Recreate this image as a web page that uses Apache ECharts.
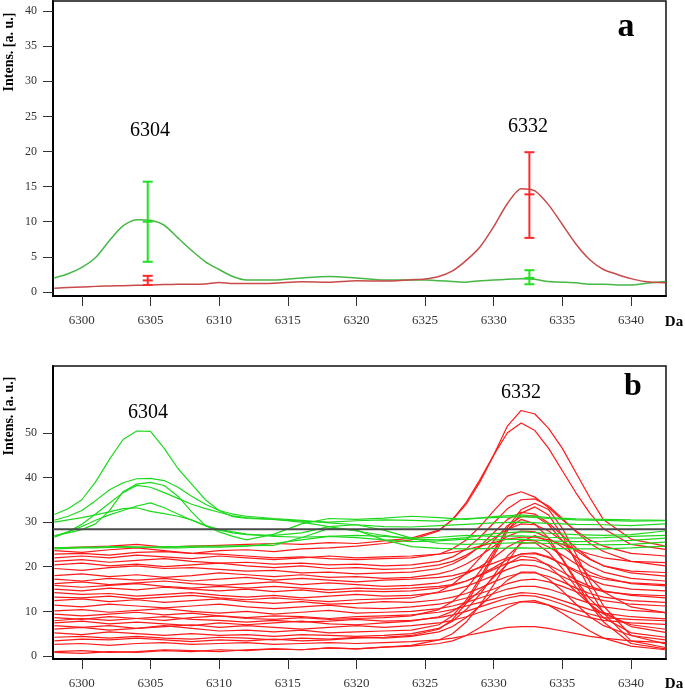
<!DOCTYPE html>
<html>
<head>
<meta charset="utf-8">
<script src="https://cdn.jsdelivr.net/npm/echarts@6/dist/echarts.min.js"></script>
<style>
html,body{margin:0;padding:0;background:#fff;}
#c{width:685px;height:690px;}
</style>
</head>
<body>
<div id="c"></div>
<script>
// ---------- Panel a ----------
const AX = [6298,6299,6300,6301,6302,6303,6304,6305,6306,6307,6308,6309,6310,6311,6312,6314,6316,6318,6320,6322,6324,6325,6326,6327,6328,6329,6330,6331,6332,6333,6334,6335,6336,6337,6338,6339,6340,6341,6342.5];
const greenA = [2.0,2.6,3.5,4.9,7.3,9.4,10.3,10.2,9.5,7.7,5.9,4.3,3.2,2.2,1.7,1.7,2.0,2.2,2.0,1.7,1.7,1.7,1.6,1.5,1.4,1.6,1.7,1.8,1.9,1.8,1.5,1.4,1.3,1.1,1.1,1.0,1.0,1.2,1.5];
const redA = [0.55,0.65,0.7,0.8,0.85,0.9,0.95,1.0,1.05,1.1,1.1,1.15,1.35,1.2,1.2,1.25,1.45,1.4,1.6,1.55,1.75,1.85,2.2,3.0,4.5,6.4,9.3,12.6,14.7,14.4,12.4,9.6,6.8,4.6,3.2,2.5,1.9,1.5,1.3];
const errX = [6304.8, 6332.6];
const greenErrMean = [10.0, 2.0];
const greenErrLow = [4.3, 1.1];
const greenErrHigh = [15.7, 3.1];
const redErrMean = [1.65, 13.9];
const redErrLow = [1.0, 7.7];
const redErrHigh = [2.3, 19.9];
const xTicks = [6300,6305,6310,6315,6320,6325,6330,6335,6340];
const yTicksA = [0,5,10,15,20,25,30,35,40];
const yTicksB = [0,10,20,30,40,50];
const peakLabels = ['6304','6332'];

// ---------- Panel b ----------
const GX = [6298,6299,6300,6301,6302,6303,6304,6305,6306,6307,6308,6309,6310,6311,6312,6314,6316,6318,6320,6322,6324,6326,6328,6330,6332,6334,6336,6338,6340,6342.5];
const green1 = [31.7,33.0,35.0,39.0,44.0,48.5,50.4,50.3,46.5,42.0,38.5,35.0,32.6,31.2,30.8,30.6,30.2,30.0,30.3,30.5,30.4,30.2,30.8,31.0,31.2,30.8,30.5,30.4,30.2,30.3];
const green2 = [30.4,31.3,32.6,34.8,37.2,38.8,39.7,39.8,39.3,37.8,35.8,34.0,32.6,31.8,31.3,30.8,30.4,29.8,29.4,29.0,28.9,29.2,29.5,29.8,30.0,29.7,29.5,29.4,29.2,29.6];
const green3 = [27.0,27.6,28.3,29.6,32.5,36.8,38.5,38.9,38.2,35.8,32.3,29.2,27.8,26.8,26.0,27.3,29.6,30.8,30.6,30.9,31.3,31.0,30.6,31.2,31.6,31.0,30.7,30.6,30.5,30.4];
const green4 = [26.6,27.8,29.5,31.8,34.2,36.6,38.2,37.8,36.6,35.3,34.0,33.0,32.2,31.4,31.0,30.6,30.0,29.0,28.0,27.0,26.2,26.0,26.5,27.4,27.8,27.5,27.2,27.0,27.2,28.0];
const green5 = [26.8,27.8,29.0,30.4,31.6,32.6,33.6,34.3,33.2,31.8,30.4,29.2,28.4,27.8,27.3,26.8,26.6,26.8,27.0,26.8,26.4,26.6,27.0,26.8,26.9,26.6,26.4,26.5,26.8,27.0];
const green6 = [30.0,30.5,31.0,31.6,32.3,33.0,33.2,32.4,31.9,31.3,30.5,29.2,28.2,27.6,27.2,27.0,27.6,29.0,29.4,28.2,26.4,25.2,25.0,25.2,25.4,25.2,25.0,24.9,25.0,25.5];
const green7 = [24.0,24.1,24.2,24.2,24.3,24.4,24.4,24.3,24.2,24.2,24.3,24.4,24.4,24.5,24.6,25.2,26.0,26.8,26.5,26.0,25.6,25.8,26.2,26.0,26.2,25.8,25.6,25.7,25.9,26.4];
const green8 = [24.3,24.3,24.4,24.4,24.5,24.5,24.4,24.4,24.5,24.5,24.6,24.6,24.6,24.7,24.7,24.8,26.5,28.6,28.2,26.0,24.5,24.1,24.0,24.1,24.2,24.1,24.0,24.0,24.2,24.6];

const RX = [6298,6300,6302,6304,6306,6308,6310,6312,6314,6316,6318,6320,6322,6324,6326,6327,6328,6329,6330,6331,6332,6333,6334,6335,6336,6337,6338,6340,6342.5];
const red01 = [24.2,24.4,24.6,25.0,24.4,24.6,24.8,25.0,25.2,25.0,25.4,25.2,25.8,26.4,28.2,30.5,34.0,39.0,45.0,51.5,55.0,54.2,51.0,46.5,41.0,35.5,30.5,26.2,24.6];
const red02 = [22.8,23.0,22.6,23.2,23.4,23.0,23.6,23.8,23.4,24.0,24.2,24.6,25.2,26.0,28.0,30.6,34.4,39.5,45.0,50.0,52.2,50.5,46.5,41.5,36.5,32.0,28.5,25.0,23.9];
const red03 = [23.6,23.2,23.8,24.2,23.6,23.0,22.8,22.4,22.0,22.2,21.8,21.6,21.8,22.0,22.8,24.0,26.0,29.0,32.5,35.8,36.8,35.6,33.2,30.5,28.0,26.0,24.6,23.0,22.4];
const red04 = [21.2,21.6,21.0,21.4,21.8,21.2,20.8,21.0,20.6,20.8,20.4,20.6,20.2,20.4,21.2,22.2,24.0,26.6,29.8,33.0,35.0,35.2,33.6,30.8,27.8,25.2,23.4,21.2,20.2];
const red05 = [6.0,6.4,5.8,6.2,6.8,6.2,5.6,5.8,5.4,5.8,5.2,5.4,5.6,5.8,7.0,9.0,12.5,17.5,23.0,28.8,32.8,34.2,32.8,28.6,22.8,16.6,11.2,4.6,2.7];
const red06 = [3.4,3.8,3.6,4.0,3.6,3.2,3.6,3.4,3.8,3.4,3.6,4.0,4.2,4.6,6.0,8.2,11.8,16.8,22.4,28.0,32.0,33.4,31.6,27.0,21.0,14.8,9.6,3.4,1.9];
const red07 = [19.6,19.2,19.8,20.2,19.6,19.8,19.4,19.0,19.2,18.6,18.8,18.4,18.6,18.8,19.6,20.6,22.2,24.6,27.6,30.6,32.2,31.8,29.8,27.0,24.2,21.8,20.2,18.6,17.9];
const red08 = [8.6,8.2,8.8,8.4,8.0,8.6,9.0,8.4,8.2,8.6,8.2,8.4,8.6,9.0,10.4,12.2,15.0,19.0,23.6,28.4,30.6,29.6,26.4,21.8,17.0,12.8,9.8,6.6,5.3];
const red09 = [18.0,18.4,17.8,18.2,17.6,18.0,18.6,18.2,17.8,18.2,17.6,17.8,17.4,17.6,18.4,19.2,20.6,22.4,24.6,26.8,28.0,27.8,26.4,24.4,22.2,20.2,18.8,17.4,16.8];
const red10 = [1.0,1.2,0.8,1.0,1.4,1.2,1.0,1.4,1.6,1.4,1.8,1.6,2.0,2.4,3.6,5.0,7.6,11.4,16.0,21.0,25.6,27.0,25.6,21.6,16.6,11.6,7.6,2.8,1.6];
const red11 = [16.2,16.6,16.0,16.4,16.8,16.2,15.8,16.2,16.6,16.0,16.4,16.0,15.6,15.8,16.4,17.2,18.4,20.0,22.0,24.4,26.0,25.8,24.4,22.6,20.6,18.8,17.6,16.2,15.7];
const red12 = [5.2,4.8,5.4,5.0,4.6,5.0,4.6,4.8,4.4,4.8,4.6,4.4,4.6,5.0,6.2,7.8,10.4,13.8,18.0,22.4,25.2,25.4,23.2,19.6,15.4,11.6,8.6,5.2,4.2];
const red13 = [15.0,14.6,15.2,14.8,15.4,15.0,14.6,15.0,14.4,14.8,14.2,14.6,14.4,14.6,15.2,15.8,16.8,18.2,19.8,21.6,22.9,23.1,22.2,20.6,18.8,17.2,16.0,15.0,14.6];
const red14 = [7.4,7.8,7.2,7.6,7.2,6.8,7.4,7.0,7.4,7.8,7.2,7.0,7.4,7.8,8.8,10.0,12.0,14.6,17.6,20.6,22.4,22.0,20.2,17.4,14.4,11.6,9.4,7.0,6.0];
const red15 = [14.2,13.8,14.0,13.4,13.8,14.2,13.6,13.2,13.6,13.0,13.4,13.8,13.4,13.6,14.2,14.8,15.6,16.8,18.0,19.4,20.4,20.2,19.2,17.8,16.4,15.2,14.4,13.8,13.5];
const red16 = [12.4,12.8,12.2,12.6,12.0,12.4,12.8,12.2,11.8,12.2,11.6,11.8,12.2,12.0,12.6,13.2,14.0,15.2,16.6,17.8,18.6,18.6,17.8,16.6,15.2,14.0,13.2,12.4,12.0];
const red17 = [11.4,11.0,11.6,11.2,10.8,11.2,11.6,11.0,10.6,11.0,11.4,10.8,10.6,11.0,11.6,12.2,13.0,14.0,15.0,16.2,17.0,17.2,16.6,15.6,14.4,13.2,12.4,11.6,11.2];
const red18 = [10.1,10.4,9.8,10.2,10.6,10.0,9.6,10.0,9.4,9.8,10.2,9.6,9.8,10.0,10.6,11.2,12.0,13.0,14.0,15.0,15.6,15.6,15.0,14.0,12.8,11.8,11.0,10.2,9.7];
const red19 = [9.4,9.0,9.4,9.8,9.2,9.6,9.0,8.6,9.0,8.8,8.4,8.8,9.0,9.2,9.8,10.4,11.2,12.0,12.8,13.6,14.2,14.0,13.4,12.4,11.4,10.4,9.6,8.8,8.3];
const red20 = [6.8,6.4,6.8,6.2,6.6,7.0,6.4,6.8,6.4,6.0,6.4,6.8,6.4,6.8,7.4,8.0,8.8,9.8,10.8,11.6,12.2,12.0,11.4,10.4,9.4,8.6,8.0,7.4,7.1];
const red21 = [2.6,2.8,2.4,2.8,3.0,2.6,2.8,3.0,2.6,2.8,3.0,2.8,3.0,3.2,3.6,4.0,4.6,5.2,5.8,6.4,6.6,6.6,6.2,5.6,5.0,4.4,4.0,3.4,3.0];
const red22 = [0.8,0.6,1.0,0.8,1.2,1.0,1.4,1.2,1.6,1.4,1.8,1.6,2.0,2.2,2.8,3.4,4.6,6.4,8.6,10.8,12.2,12.4,11.4,9.6,7.6,5.6,4.0,2.2,1.4];
const red23 = [20.4,20.8,20.2,20.6,20.0,20.4,20.8,20.2,19.8,20.2,19.6,19.8,19.4,19.6,20.4,21.2,22.6,24.4,26.4,28.4,29.6,29.4,28.0,25.8,23.6,21.6,20.2,19.0,18.7];
const red24 = [13.2,13.0,13.4,12.8,13.2,13.6,13.0,12.6,13.0,12.6,12.2,12.6,12.8,13.0,14.4,16.0,18.6,22.0,25.8,29.2,31.2,31.4,29.4,25.8,21.6,17.6,14.4,11.0,9.7];
const red25 = [22.0,22.4,22.0,22.6,22.2,21.8,22.4,22.0,21.6,22.0,22.4,22.0,22.2,22.4,22.8,23.2,23.8,24.6,25.4,26.2,26.6,26.6,26.0,25.0,23.8,22.8,22.0,21.2,20.9];
const red26 = [17.2,16.8,17.4,17.0,17.4,16.8,17.2,17.6,17.0,17.4,17.0,16.6,17.0,17.2,17.6,18.0,18.8,19.8,20.8,22.0,22.8,22.9,22.0,20.6,19.2,18.0,17.2,16.4,16.0];
const red27 = [4.2,4.4,4.0,4.4,4.0,3.8,4.2,4.0,3.6,4.0,3.8,4.2,4.0,4.4,5.4,6.6,8.6,11.2,14.2,17.0,18.8,18.8,17.2,14.6,11.6,8.8,6.8,4.6,3.6];
const red28 = [15.8,15.4,15.8,16.2,15.6,15.2,15.6,15.2,15.6,15.2,14.8,15.2,15.0,15.2,15.6,16.0,16.8,18.0,19.4,20.8,21.6,21.4,20.4,18.8,17.0,15.6,14.6,13.6,13.0];
const red29 = [7.9,8.4,8.0,8.4,8.8,8.2,8.0,7.6,8.0,7.6,7.8,8.2,7.8,8.0,8.6,9.2,10.0,11.0,12.0,13.0,13.6,13.4,12.6,11.6,10.4,9.4,8.6,8.2,7.9];
const refLevel = [28.4];

const greenCurves = [green1,green2,green3,green4,green5,green6,green7,green8];
const redCurves = [red01,red02,red03,red04,red05,red06,red07,red08,red09,red10,red11,red12,red13,red14,red15,red16,red17,red18,red19,red20,red21,red22,red23,red24,red25,red26,red27,red28,red29];

const FONT = 'Liberation Serif';
const XMIN = 6297.9, XMAX = 6342.55;

function pairs(xs, ys){ return xs.map((x,i)=>[x, ys[i]]); }

function errRenderer(color){
  return function(params, api){
    const x = api.value(0), lo = api.value(1), hi = api.value(2), m = api.value(3);
    const pLo = api.coord([x, lo]), pHi = api.coord([x, hi]), pM = api.coord([x, m]);
    const hw = 5;
    const st = {stroke: color, lineWidth: 2};
    const seg = (x1,y1,x2,y2)=>({type:'line', shape:{x1,y1,x2,y2}, style:st});
    return {type:'group', children:[
      seg(pLo[0], pLo[1], pHi[0], pHi[1]),
      seg(pHi[0]-hw, pHi[1], pHi[0]+hw, pHi[1]),
      seg(pLo[0]-hw, pLo[1], pLo[0]+hw, pLo[1]),
      seg(pM[0]-hw, pM[1], pM[0]+hw, pM[1])
    ]};
  };
}

function xAxisDef(gi){
  return {
    type:'value', gridIndex: gi, min: XMIN, max: XMAX,
    axisLine:{show:true, onZero:false, lineStyle:{color:'#000', width:2}},
    axisTick:{show:true, length:10, customValues: xTicks, lineStyle:{color:'#333', width:1}},
    axisLabel:{customValues: xTicks, margin: 18, fontFamily: FONT, fontSize: 13, color:'#333',
      formatter: v => String(Math.round(v))},
    splitLine:{show:false}
  };
}
function yAxisDef(gi, min, max, ticks){
  return {
    type:'value', gridIndex: gi, min, max,
    axisLine:{show:true, onZero:false, lineStyle:{color:'#000', width:2}},
    axisTick:{show:true, length:10, customValues: ticks, lineStyle:{color:'#333', width:1}},
    axisLabel:{customValues: ticks, margin: 16, fontFamily: FONT, fontSize: 12, color:'#333',
      formatter: v => String(Math.round(v))},
    splitLine:{show:false}
  };
}

const series = [];
// panel a
series.push({type:'line', xAxisIndex:0, yAxisIndex:0, data: pairs(AX, greenA), showSymbol:false, smooth:0.25, lineStyle:{color:'#45b845', width:1.5}, z:3});
series.push({type:'line', xAxisIndex:0, yAxisIndex:0, data: pairs(AX, redA), showSymbol:false, smooth:0.25, lineStyle:{color:'#c84a4a', width:1.5}, z:3});
series.push({type:'custom', xAxisIndex:0, yAxisIndex:0, renderItem: errRenderer('#22e022'),
  data: errX.map((x,i)=>[x, greenErrLow[i], greenErrHigh[i], greenErrMean[i]]), encode:{x:0, y:[1,2,3]}, z:5});
series.push({type:'custom', xAxisIndex:0, yAxisIndex:0, renderItem: errRenderer('#ff2a2a'),
  data: errX.map((x,i)=>[x, redErrLow[i], redErrHigh[i], redErrMean[i]]), encode:{x:0, y:[1,2,3]}, z:5});
// panel b
redCurves.forEach(c=>{
  series.push({type:'line', xAxisIndex:1, yAxisIndex:1, data: pairs(RX, c), showSymbol:false, lineStyle:{color:'#ff1a1a', width:1.2}, z:2});
});
greenCurves.forEach(c=>{
  series.push({type:'line', xAxisIndex:1, yAxisIndex:1, data: pairs(GX, c), showSymbol:false, lineStyle:{color:'#1ed81e', width:1.2}, z:3});
});
series.push({type:'line', xAxisIndex:1, yAxisIndex:1, data: [[XMIN, refLevel[0]],[XMAX, refLevel[0]]], showSymbol:false, lineStyle:{color:'#4a4a4a', width:2}, z:4});

const txt = (text, x, y, size, bold, rot) => ({
  type:'text', x, y, rotation: rot || 0, z: 10,
  style:{text, fontFamily: FONT, fontSize: size, fontWeight: bold ? 'bold' : 'normal', fill:'#000', align:'center', verticalAlign:'middle'}
});

const option = {
  animation:false,
  backgroundColor:'#fff',
  grid:[
    {left:53, right:19, top:1, height:295, show:true, borderColor:'#111', borderWidth:1.5, backgroundColor:'transparent'},
    {left:53, right:19, top:366, height:294, show:true, borderColor:'#111', borderWidth:1.5, backgroundColor:'transparent'}
  ],
  xAxis:[xAxisDef(0), xAxisDef(1)],
  yAxis:[yAxisDef(0, -0.57, 41.42, yTicksA), yAxisDef(1, -0.67, 64.96, yTicksB)],
  series,
  graphic:[
    txt('Intens. [a. u.]', 9, 52, 14, true, Math.PI/2),
    txt('Intens. [a. u.]', 9, 416, 14, true, Math.PI/2),
    txt('Da', 674, 322, 15, true),
    txt('Da', 674, 684, 15, true),
    txt('a', 626, 27, 34, true),
    txt('b', 633, 387, 32, true),
    txt(peakLabels[0], 150, 131, 20, false),
    txt(peakLabels[1], 528, 127, 20, false),
    txt(peakLabels[0], 148, 413, 20, false),
    txt(peakLabels[1], 521, 393, 20, false)
  ]
};

const chart = echarts.init(document.getElementById('c'), null, {renderer:'canvas'});
chart.setOption(option);
</script>
</body>
</html>
